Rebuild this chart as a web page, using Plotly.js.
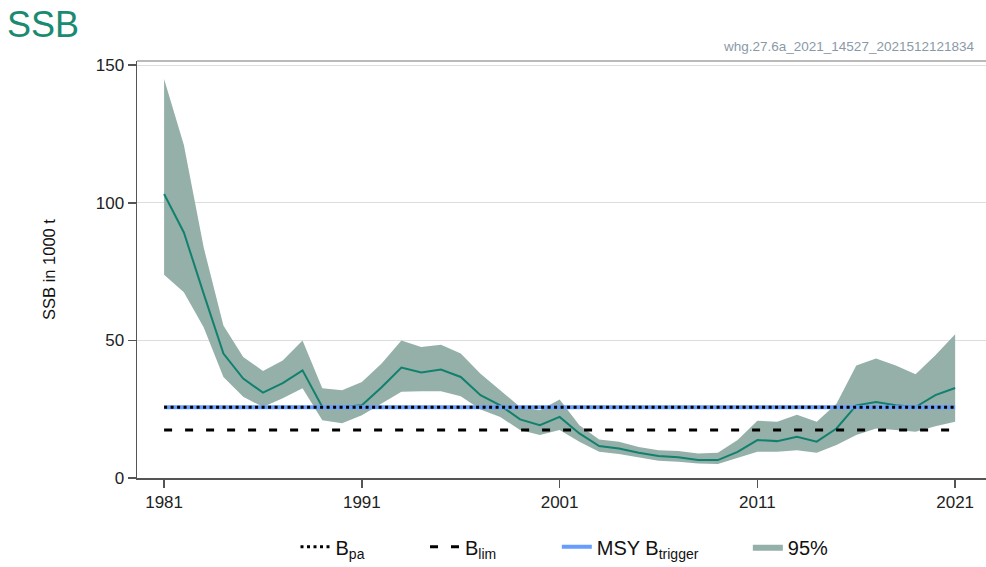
<!DOCTYPE html>
<html>
<head>
<meta charset="utf-8">
<script src="https://cdn.plot.ly/plotly-3.0.1.min.js"></script>
<style>html,body{margin:0;padding:0;background:#fff;}#chart{width:986px;height:567px;}</style>
</head>
<body>
<div id="chart"></div>
<script>
const years = [1981,1982,1983,1984,1985,1986,1987,1988,1989,1990,1991,1992,1993,1994,1995,1996,1997,1998,1999,2000,2001,2002,2003,2004,2005,2006,2007,2008,2009,2010,2011,2012,2013,2014,2015,2016,2017,2018,2019,2020,2021];
const ssb = [103.2,89.2,67,45.2,36.1,31,34.5,39.1,25.8,25.8,26.4,33,40.1,38.3,39.4,36.7,30.1,26.4,21.3,19.2,22.2,16.2,11.6,10.7,9.2,8,7.5,6.5,6.5,9.5,13.8,13.4,15,13.2,18,26.4,27.6,26.4,25.8,30.1,32.7];
const ssbHigh = [145,121,83.8,55.4,44,38.9,42.7,50,32.6,31.9,34.9,41.6,50,47.6,48.4,45.2,37.9,31.9,25.8,24.6,28.5,19.2,14,13.2,11.3,10.1,9.8,8.9,9.2,13.8,20.8,20.4,23,20.4,27,40.9,43.4,40.9,37.7,44.6,52.2];
const ssbLow = [73.8,67.5,54.8,36.7,29.5,25.8,29,32.6,21,19.9,22.8,27,31.3,31.5,31.5,29.7,24.9,22.2,17.4,15.6,17.4,13.2,9.5,8.7,7.5,6.3,5.9,5.3,5.1,7.2,9.5,9.5,10.1,9.2,12,15.6,18,17.4,16.8,18.8,20.4];
const Bpa = 25.7;
const Blim = 17.4;
const MSYBtrigger = 25.7;
const xTicks = [1981,1991,2001,2011,2021];
const yTicks = [0,50,100,150];

const refX = [years[0], years[years.length-1]];
const font = 'Liberation Sans, Arial, sans-serif';
const pad = n => '\u00A0'.repeat(n);

const traces = [
  {x: years, y: ssbLow, type:'scatter', mode:'lines', line:{width:0, color:'#94b0a9'}, showlegend:false, hoverinfo:'skip', legendgroup:'ci'},
  {x: years, y: ssbHigh, type:'scatter', mode:'lines', line:{width:0, color:'#94b0a9'}, fill:'tonexty', fillcolor:'#94b0a9', name:'95%', legendgroup:'ci', legendrank:4},
  {x: years, y: ssb, type:'scatter', mode:'lines', line:{width:2, color:'#12806e'}, showlegend:false, name:'SSB'},
  {x: refX, y: [MSYBtrigger, MSYBtrigger], type:'scatter', mode:'lines', line:{width:4, color:'#679dfe'}, name:'MSY B<sub>trigger</sub>' + pad(8), legendrank:3},
  {x: refX, y: [Bpa, Bpa], type:'scatter', mode:'lines', line:{width:3, color:'#000', dash:'3px,3.5px'}, name:'B<sub>pa</sub>' + pad(10), legendrank:1},
  {x: refX, y: [Blim, Blim], type:'scatter', mode:'lines', line:{width:3, color:'#000', dash:'8px,13px'}, name:'B<sub>lim</sub>' + pad(10), legendrank:2}
];

const layout = {
  width: 986, height: 567,
  margin: {l:137, r:0, t:61, b:89},
  paper_bgcolor:'#fff', plot_bgcolor:'#fff',
  font: {family: font, color:'#222', size:16},
  title: {text:'SSB', x: 7/986, xanchor:'left', xref:'container', y: 1-24/567, yanchor:'middle', yref:'container', font:{size:36, color:'#1a8a72', family:font}},
  xaxis: {
    range:[1979.63, 2022.56], tickvals: xTicks, ticktext: xTicks.map(String),
    showgrid:false, zeroline:false, showline:true, linecolor:'#555', linewidth:1.5,
    ticks:'outside', ticklen:8, tickcolor:'#555', tickwidth:1.5,
    tickfont:{size:17, color:'#222'}
  },
  yaxis: {
    range:[0, 151.5], tickvals: yTicks, ticktext: yTicks.map(String),
    showgrid:true, gridcolor:'#dddddd', gridwidth:1.2, zeroline:false,
    showline:true, linecolor:'#555', linewidth:1.5,
    ticks:'outside', ticklen:8, tickcolor:'#555', tickwidth:1.5,
    tickfont:{size:17, color:'#222'},
    title:{text:'SSB in 1000 t', font:{size:16.5, color:'#111'}, standoff:36}
  },
  showlegend:true,
  legend: {orientation:'h', x:0.5 + 3/849, xanchor:'center', y:-0.165, yanchor:'middle', font:{size:20, color:'#111', family:font}, traceorder:'normal', bgcolor:'rgba(0,0,0,0)'},
  shapes: [
    {type:'line', xref:'paper', yref:'paper', x0:0, x1:1, y0:1, y1:1, line:{color:'#777', width:1.2}}
  ],
  annotations: [
    {text:'whg.27.6a_2021_14527_2021512121834', xref:'paper', yref:'paper', x:1, xshift:-10, xanchor:'right', y:1, yshift:15, yanchor:'middle', showarrow:false, font:{size:13.5, color:'#8a99a8', family:font}}
  ]
};

Plotly.newPlot('chart', traces, layout, {displayModeBar:false, staticPlot:true});
</script>
</body>
</html>
